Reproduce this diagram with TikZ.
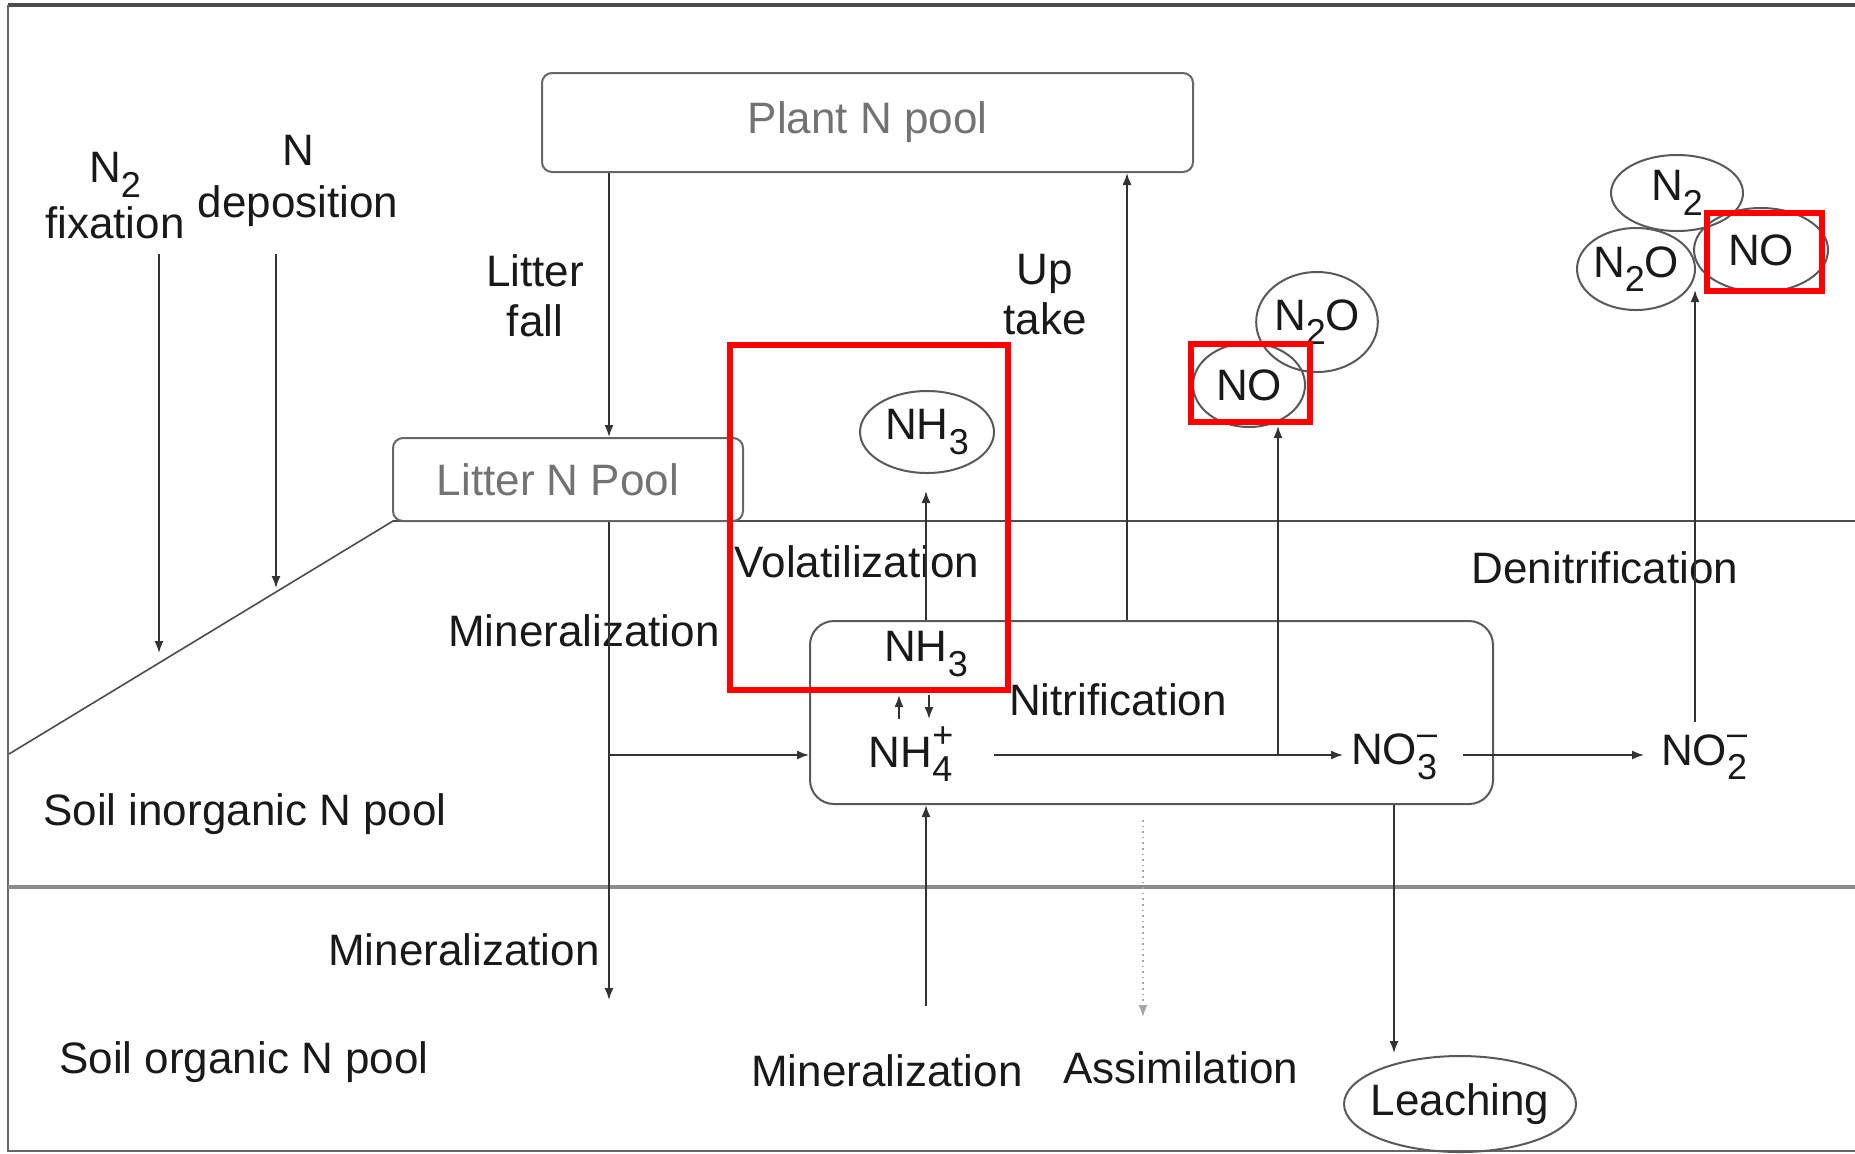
\documentclass[tikz,border=0pt]{standalone}
\usepackage{fontspec}
\setmainfont{Liberation Sans}
\usetikzlibrary{shapes.geometric,arrows.meta}
\newcommand{\bigfont}{\fontsize{22}{25}\selectfont}
\newcommand{\chsub}[1]{\raisebox{-0.33em}{\fontsize{18}{18}\selectfont #1}}
\newcommand{\chss}[2]{\makebox[0pt][l]{\raisebox{-0.33em}{\fontsize{18}{18}\selectfont #1}}\raisebox{0.45em}{\fontsize{18}{18}\selectfont #2}}
\tikzset{
 txt/.style={font=\bigfont, text=black!90, inner sep=0pt, align=center},
 pool/.style={draw=black!60, line width=1pt, rounded corners=5pt, font=\bigfont, text=black!55, inner sep=0pt},
 gas/.style={ellipse, draw=black!65, line width=1pt, inner sep=0pt, font=\bigfont, text=black!90},
 flow/.style={draw=black!80, line width=0.8pt, -{Latex[length=6pt,width=4.5pt]}},
 hl/.style={draw=red, line width=3pt},
 layerline/.style={draw=black!45, line width=1.6pt},
}
\begin{document}
\begin{tikzpicture}[x=0.5pt,y=-0.5pt]
\useasboundingbox (0,0) rectangle (1855,1153);
% frame
\draw[draw=black!70, line width=1.6pt] (8,5) -- (1855,5);
\draw[draw=black!60, line width=0.8pt] (8,5) -- (8,1151) -- (1855,1151);
% ground surface and layers
\draw[draw=black!70, line width=0.8pt] (9,754) -- (393,521) -- (1855,521);
\draw[layerline] (8,887) -- (1855,887);

% pools
\node[pool, minimum width=325.5pt, minimum height=49.5pt] (plant) at (867.5,122.5) {Plant N pool};
\node[pool, fill=white, minimum width=175pt, minimum height=41.5pt] (litter) at (568,479.5) {Litter N Pool\hspace*{10pt}};
\node[draw=black!65, line width=1pt, rounded corners=12pt, minimum width=341.5pt, minimum height=91.5pt] (nitbox) at (1151.5,712.5) {};

% labels
\node[txt] (n2fix) at (115,196) {N\chsub{2}\\[3pt]fixation};
\node[txt] (ndep) at (298,181) {N\\[1pt]deposition};
\node[txt] (litfall) at (535,296) {Litter\\fall};
\node[txt] (uptake) at (1045,295) {Up\\take};
\node[txt] (volat) at (857,562) {Volatilization};
\node[txt] (miner1) at (584,631) {Mineralization};
\node[txt] (nitrif) at (1118,700) {Nitrification};
\node[txt] (denit) at (1605,568) {Denitrification};
\node[txt] (soilinorg) at (245,814) {Soil inorganic N pool};
\node[txt] (miner2) at (464,950) {Mineralization};
\node[txt] (soilorg) at (244,1062) {Soil organic N pool};
\node[txt] (miner3) at (887,1071) {Mineralization};
\node[txt] (assim) at (1181,1068) {Assimilation};
\node[txt] (nh3in) at (926,654) {NH\chsub{3}};
\node[txt] (nh4) at (911,754) {NH\chss{4}{+}};
\node[txt] (no3) at (1394,757) {NO\chss{3}{--}};
\node[txt] (no2) at (1704,757) {NO\chss{2}{--}};

% gas ellipses
\node[gas, minimum width=67pt, minimum height=41pt] (nh3out) at (927,432) {NH\chsub{3}};
\node[gas, minimum width=58pt, minimum height=50pt] (n2omid) at (1317,322) {N\chsub{2}O};
\node[gas, minimum width=56pt, minimum height=42pt] (nomid) at (1249,385) {NO};
\node[gas, minimum width=66pt, minimum height=38pt] (n2top) at (1677,193) {N\chsub{2}};
\node[gas, inner xsep=-2pt, minimum width=59pt, minimum height=41pt] (n2otop) at (1636,269) {N\chsub{2}O};
\node[gas, minimum width=67pt, minimum height=42pt] (notop) at (1761,250) {NO};
\node[gas, inner xsep=-14pt, minimum width=116pt, minimum height=48pt] (leach) at (1460,1104) {Leaching};

% connector end points
\coordinate (fixS) at (159,254); \coordinate (fixE) at (159,653);
\coordinate (depS) at (276,254); \coordinate (depE) at (276,588);
\coordinate (lfx) at (609,0);
\coordinate (minE) at (609,1000);
\coordinate (minJ) at (609,755);
\coordinate (upx) at (1127,0);
\coordinate (volx) at (926,0);
\coordinate (volE) at (926,491);
\coordinate (smUpS) at (899,719); \coordinate (smUpE) at (899,695);
\coordinate (smDnS) at (929,695); \coordinate (smDnE) at (929,719);
\coordinate (nitS) at (994,755); \coordinate (nitE) at (1343,755);
\coordinate (noJ) at (1278,755); \coordinate (noE) at (1278,426);
\coordinate (denS) at (1463,755); \coordinate (denE) at (1644,755);
\coordinate (dnS) at (1695,722); \coordinate (dnE) at (1695,290);
\coordinate (mupS) at (926,1006);
\coordinate (asS) at (1143,820); \coordinate (asE) at (1143,1017);
\coordinate (lchx) at (1394,0); \coordinate (lchE) at (1394,1053);

% connectors
\draw[flow] (fixS) -- (fixE);
\draw[flow] (depS) -- (depE);
\draw[flow] (lfx |- plant.south) -- (lfx |- litter.north);
\draw[flow] (lfx |- litter.south) -- (minE);
\draw[flow] (minJ) -- (nitbox.west |- minJ);
\draw[flow] (upx |- nitbox.north) -- (upx |- plant.south);
\draw[flow] (volx |- nitbox.north) -- (volE);
\draw[flow] (smUpS) -- (smUpE);
\draw[flow] (smDnS) -- (smDnE);
\draw[flow] (nitS) -- (nitE);
\draw[flow] (noJ) -- (noE);
\draw[flow] (denS) -- (denE);
\draw[flow] (dnS) -- (dnE);
\draw[flow] (mupS) -- (volx |- nitbox.south);
\draw[flow, draw=black!35, dotted] (asS) -- (asE);
\draw[flow] (lchx |- nitbox.south) -- (lchE);

% highlight boxes
\draw[hl] (730,345) rectangle (1008,690);
\draw[hl] (1191,344) rectangle (1310,422);
\draw[hl] (1707,213) rectangle (1822,291);
\end{tikzpicture}
\end{document}
